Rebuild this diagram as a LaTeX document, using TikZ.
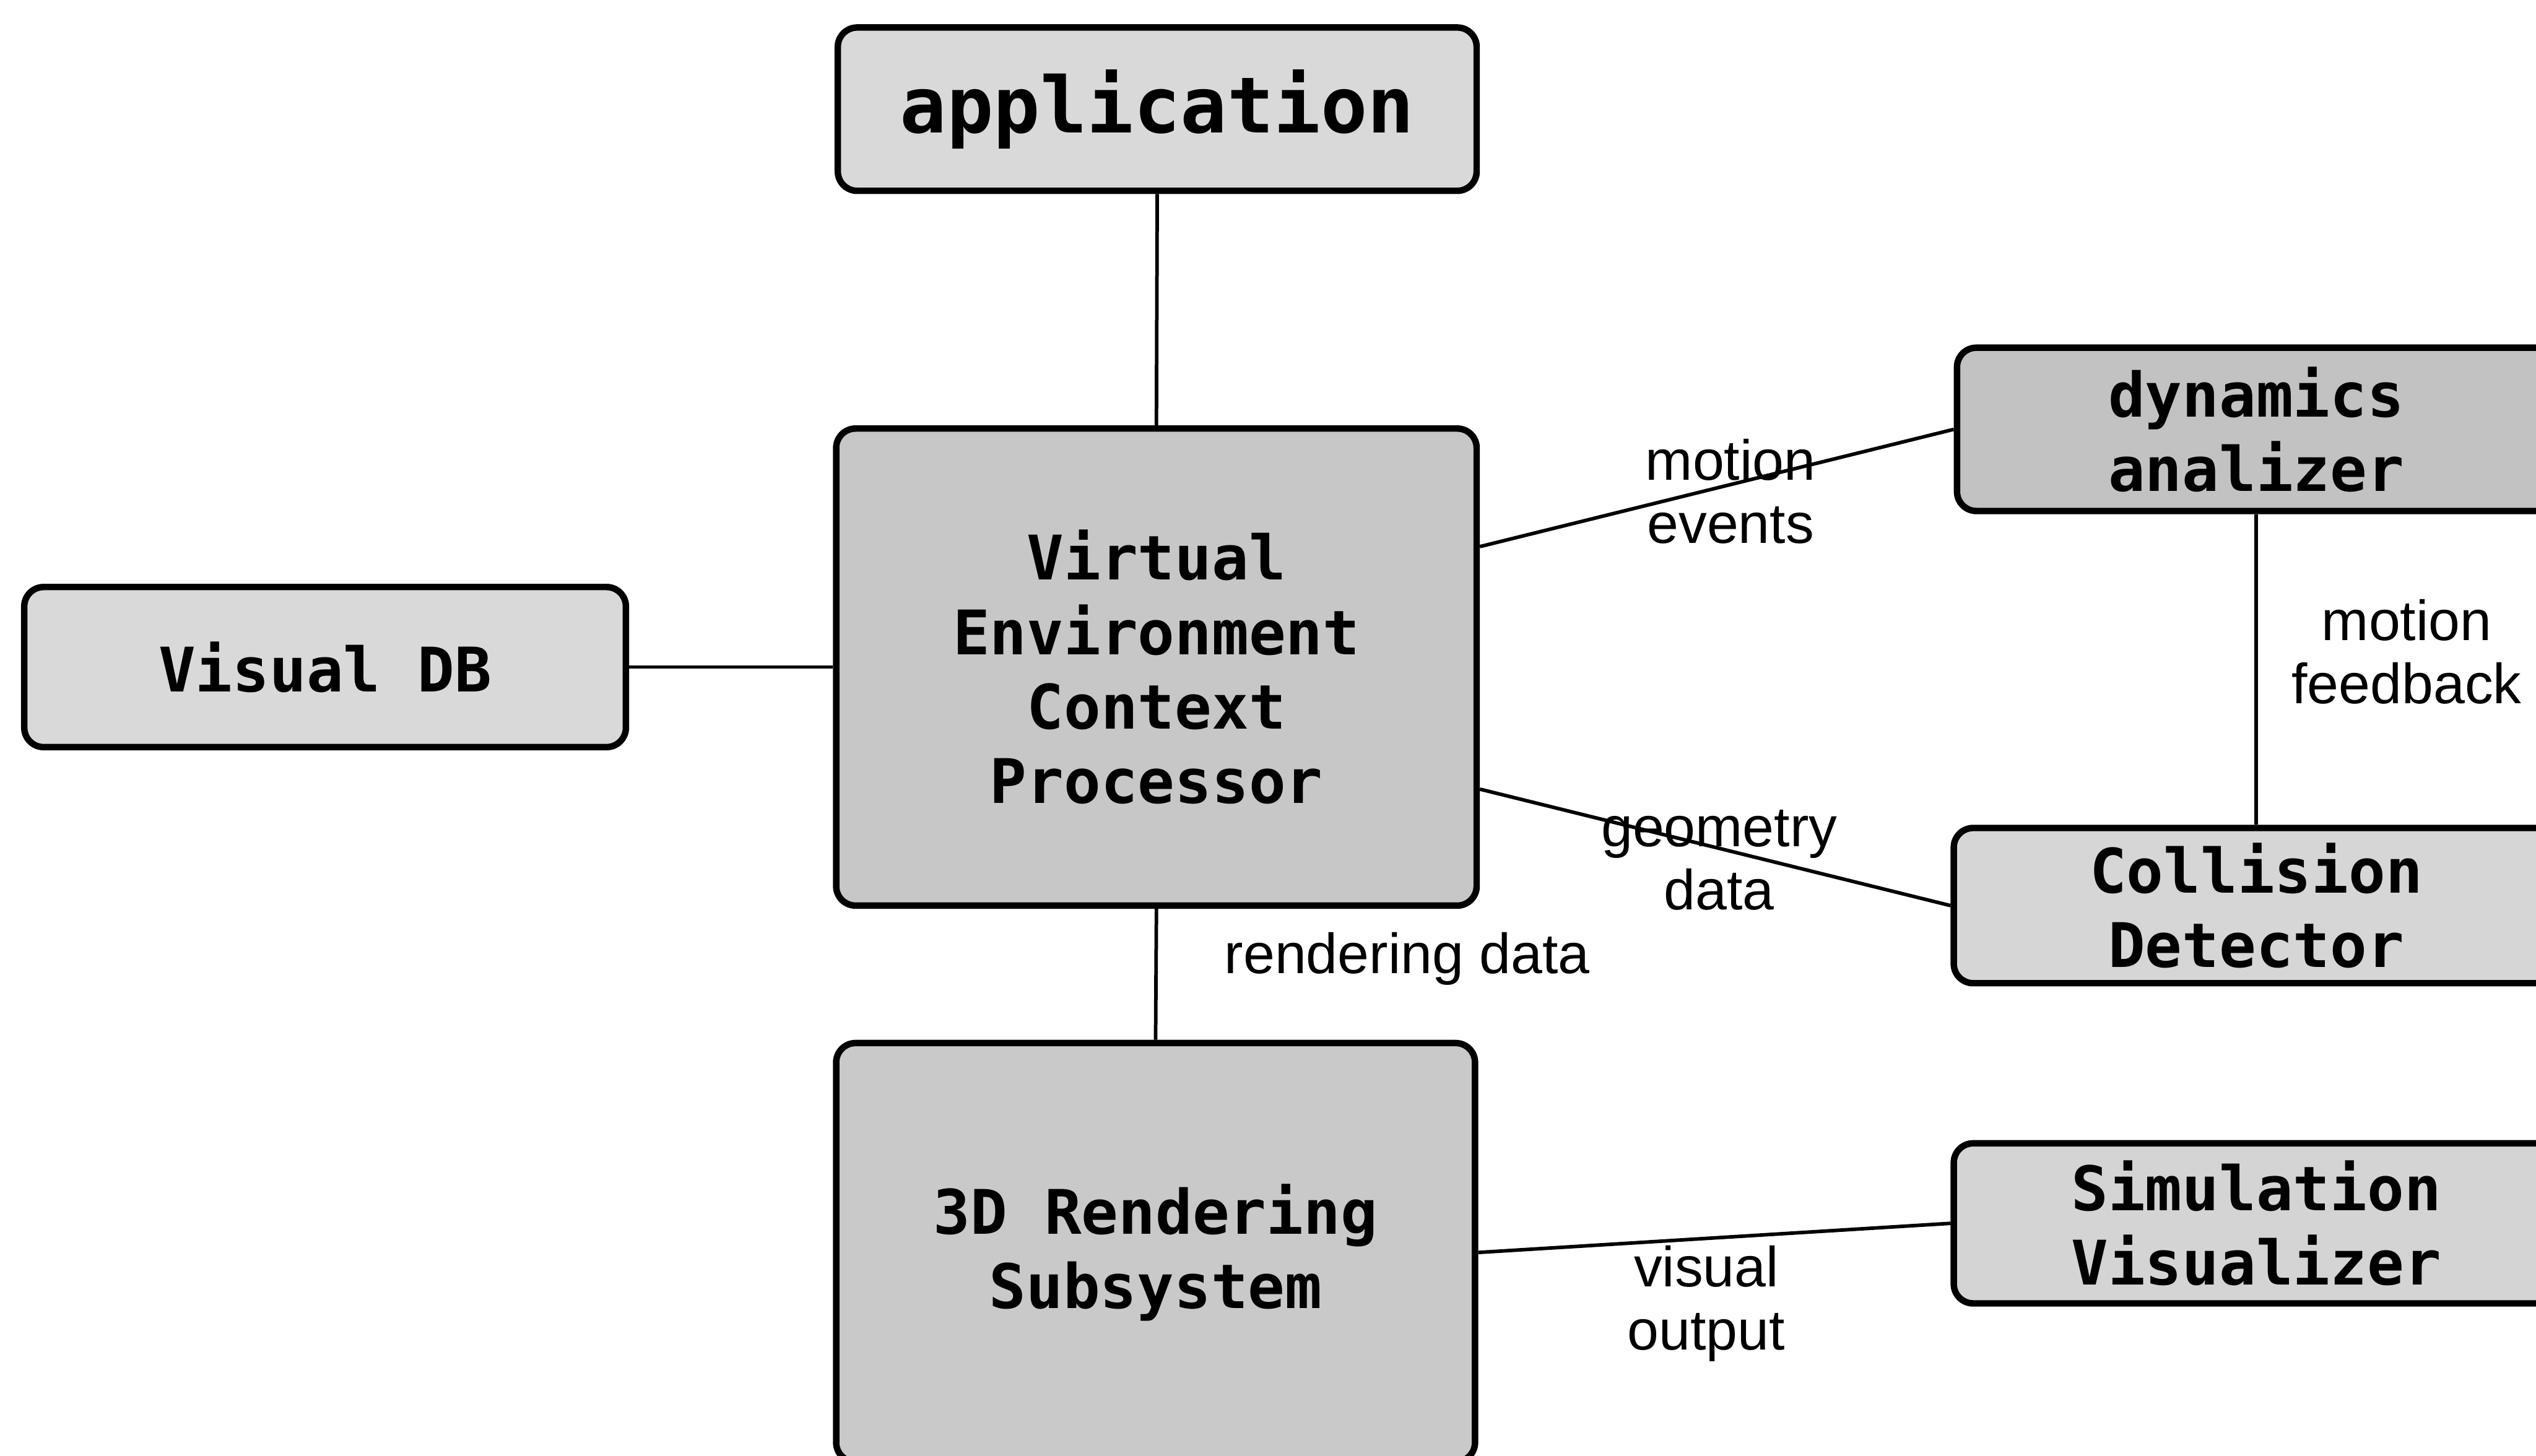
\documentclass[tikz,border=0pt]{standalone}
\usepackage{fontspec}
\setmainfont{Liberation Sans}
\newfontfamily\boxfont{DejaVu Sans Mono}
\begin{document}
\begin{tikzpicture}[x=1pt,y=-1pt,
  blk/.style={draw=black, line width=4pt, rounded corners=12pt, inner sep=0pt,
    align=center, font=\boxfont\bfseries\fontsize{38}{46}\selectfont},
  lnk/.style={line width=2.2pt},
  lbl/.style={align=center, inner sep=0pt, font=\fontsize{35}{39}\selectfont}]
\useasboundingbox (0,0) rectangle (1568,900);
\clip (0,0) rectangle (1568,900);

% blocks
\node[blk, fill=black!15, minimum width=395pt, minimum height=101pt,
  font=\boxfont\bfseries\fontsize{48}{52}\selectfont] (app) at (715.5,67.5) {application};
\node[blk, fill=black!22, minimum width=396pt, minimum height=295pt] (vecp) at (715,412.5)
  {Virtual\\Environment\\Context\\Processor};
\node[blk, fill=black!15, minimum width=372pt, minimum height=99pt] (vdb) at (201,412.5) {Visual DB};
\node[blk, fill=black!21, minimum width=395pt, minimum height=259pt] (render) at (714.5,774.5)
  {3D Rendering\\Subsystem};
\node[blk, fill=black!24, minimum width=370pt, minimum height=101pt] (dyn) at (1395,265.5)
  {dynamics\\analizer};
\node[blk, fill=black!16, minimum width=374pt, minimum height=96pt] (coll) at (1395,560)
  {Collision\\Detector};
\node[blk, fill=black!17, minimum width=374pt, minimum height=99pt] (sim) at (1395,756.5)
  {Simulation\\Visualizer};

% connectors
\draw[lnk] (app.south) -- (vecp.north);
\draw[lnk] (vdb.east) -- (vecp.west);
\draw[lnk] ([yshift=74.5pt]vecp.east) -- (dyn.west);
\draw[lnk] ([yshift=-75.5pt]vecp.east) -- (coll.west);
\draw[lnk] (vecp.south) -- (render.north);
\draw[lnk] (render.east) -- (sim.west);
\draw[lnk] (dyn.south) -- (coll.north);

% connector labels
\node[lbl] (lmotion) at (1070,304) {motion\\events};
\node[lbl] (lgeom) at (1063,532) {geometry\\data};
\node[lbl] (lrender) at (870,593) {rendering data};
\node[lbl] (lvisual) at (1055,806) {visual\\output};
\node[lbl] (lfeed) at (1488,403) {motion\\feedback};
\end{tikzpicture}
\end{document}
